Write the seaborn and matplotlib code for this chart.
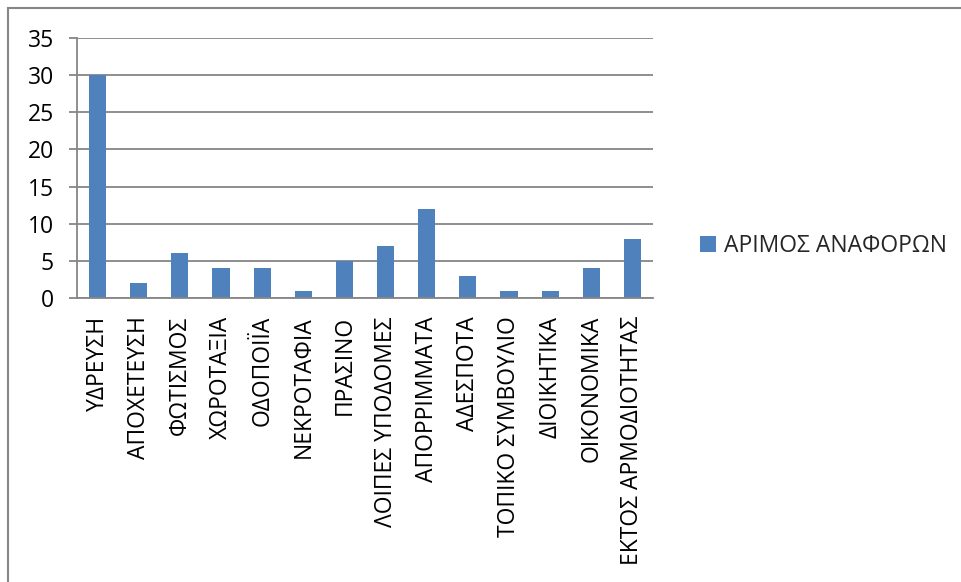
import matplotlib
matplotlib.use("Agg")
import matplotlib.pyplot as plt
import seaborn as sns
from matplotlib.patches import Rectangle

categories = ["ΥΔΡΕΥΣΗ", "ΑΠΟΧΕΤΕΥΣΗ", "ΦΩΤΙΣΜΟΣ", "ΧΩΡΟΤΑΞΙΑ", "ΟΔΟΠΟΙΪΑ",
              "ΝΕΚΡΟΤΑΦΙΑ", "ΠΡΑΣΙΝΟ", "ΛΟΙΠΕΣ ΥΠΟΔΟΜΕΣ", "ΑΠΟΡΡΙΜΜΑΤΑ", "ΑΔΕΣΠΟΤΑ",
              "ΤΟΠΙΚΟ ΣΥΜΒΟΥΛΙΟ", "ΔΙΟΙΚΗΤΙΚΑ", "ΟΙΚΟΝΟΜΙΚΑ", "ΕΚΤΟΣ ΑΡΜΟΔΙΟΤΗΤΑΣ"]
values = [30, 2, 6, 4, 4, 1, 5, 7, 12, 3, 1, 1, 4, 8]
series_name = "ΑΡΙΜΟΣ ΑΝΑΦΟΡΩΝ"
y_ticks = [0, 5, 10, 15, 20, 25, 30, 35]

sns.set_theme(style="white")
plt.rcParams["font.family"] = ["Open Sans", "DejaVu Sans"]

W, H = 962, 582
FS = 16.5
fig = plt.figure(figsize=(W / 100, H / 100), dpi=100)
ax = fig.add_axes([77 / W, 1 - 298 / H, (653 - 77) / W, (298 - 38) / H])

grid_c = "#868686"
bar_c = "#4F81BD"

sns.barplot(x=categories, y=values, color=bar_c, width=0.42, saturation=1,
            linewidth=0, label=series_name, ax=ax)

ax.set_ylim(0, 35)
ax.set_xlim(-0.5, len(categories) - 0.5)
ax.set_yticks(y_ticks)
ax.set_yticklabels([str(v) for v in y_ticks])
ax.yaxis.grid(True, color=grid_c, linewidth=1.3)
ax.set_axisbelow(True)
ax.set_xlabel("")
ax.set_ylabel("")

for s in ["top", "right"]:
    ax.spines[s].set_visible(False)
for s in ["left", "bottom"]:
    ax.spines[s].set_color(grid_c)
    ax.spines[s].set_linewidth(1.3)

ax.set_xticks(range(len(categories)))
ax.set_xticklabels(categories, rotation=90, fontsize=FS, color="black")
ax.set_xticks([i - 0.5 for i in range(len(categories) + 1)], minor=True)
ax.tick_params(axis="x", which="major", length=0, pad=13)
ax.tick_params(axis="x", which="minor", length=5.5, width=1.3, color=grid_c, direction="out")
ax.tick_params(axis="y", length=5.5, width=1.3, color=grid_c, labelsize=FS, pad=11,
               left=True, labelcolor="black")

leg = ax.legend(loc="center left", bbox_to_anchor=(700 / W, 1 - 246 / H),
                bbox_transform=fig.transFigure, frameon=False, fontsize=FS,
                handlelength=0.7, handleheight=0.7, handletextpad=0.35,
                borderaxespad=0, borderpad=0)

fig.patches.append(Rectangle((8 / W, -0.1), 1.2, 1 - 8 / H + 0.1, transform=fig.transFigure,
                             fill=False, edgecolor=grid_c, linewidth=1.5, zorder=0))

fig.savefig("out.png", dpi=100)
